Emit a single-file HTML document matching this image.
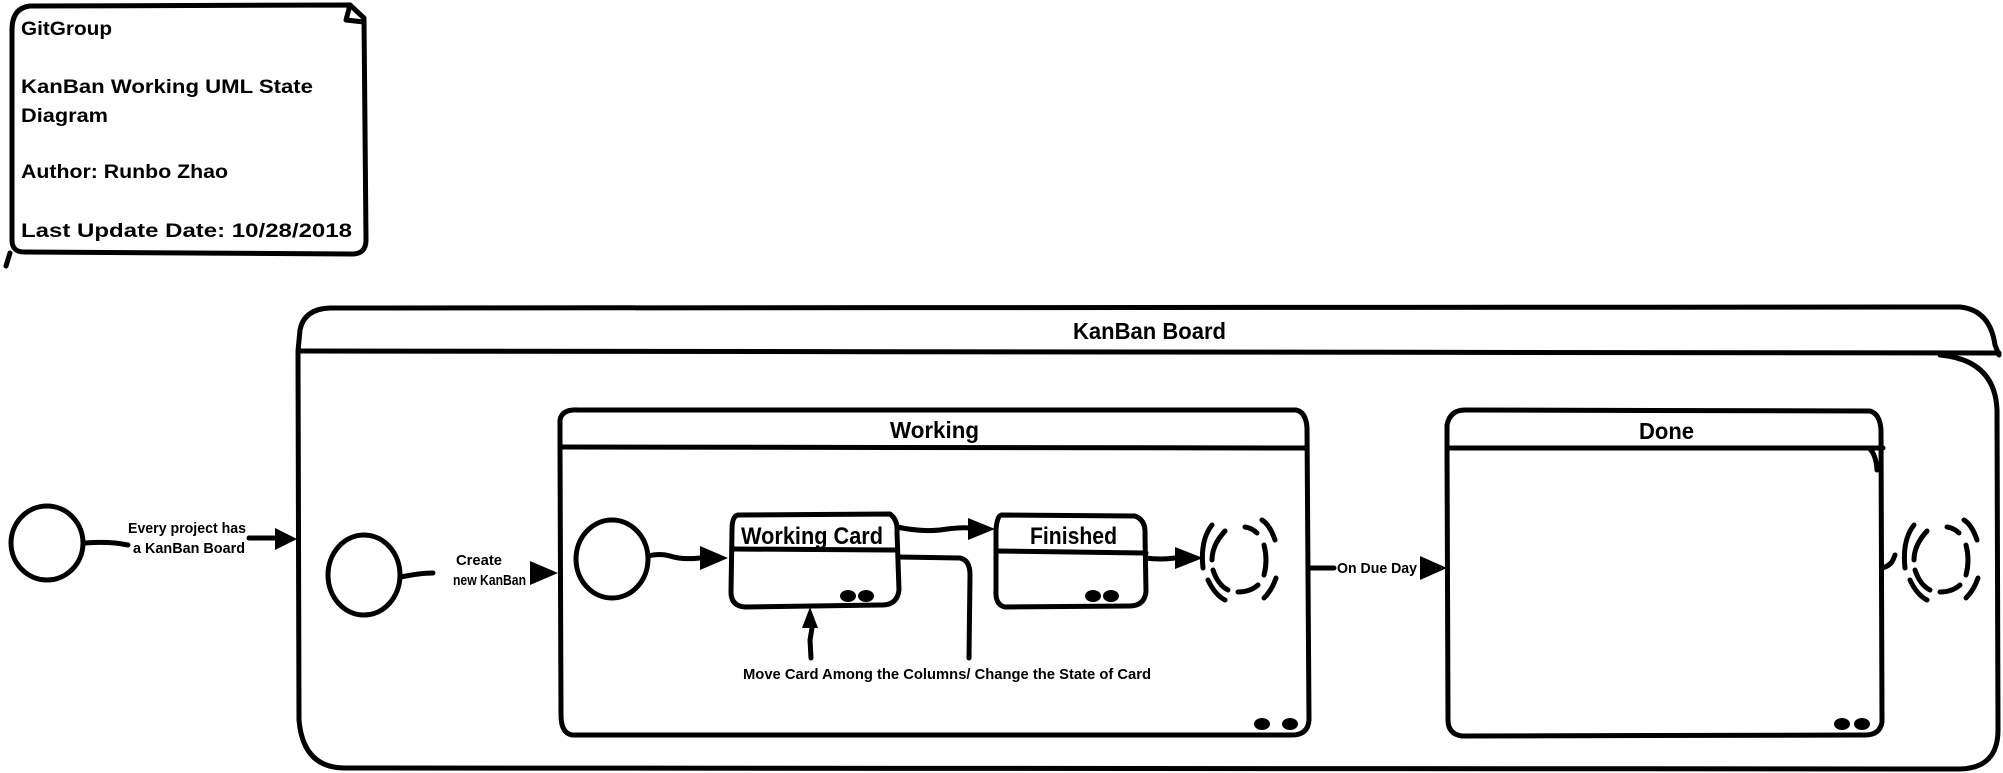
<!DOCTYPE html>
<html><head><meta charset="utf-8"><style>
html,body{margin:0;padding:0;background:#fff;}
svg{display:block;}
text{font-family:"Liberation Sans Narrow","Liberation Sans",sans-serif;font-weight:bold;fill:#000;}
.n{font-family:"Liberation Sans",sans-serif;font-size:19px;}
</style></head><body>
<svg width="2003" height="773" viewBox="0 0 2003 773" xmlns="http://www.w3.org/2000/svg">
<g fill="none" stroke="#000" stroke-width="5" stroke-linecap="round" stroke-linejoin="round">
<!-- note -->
<path d="M30 6 L350 5 L364 18 L366 240 Q366 254 352 254 L24 252 Q12 252 12 240 L12 30 Q12 8 30 6 Z"/>
<path d="M350 5 L346 20 L364 22"/>
<path d="M10 253 L6 266"/>
<!-- board -->
<path d="M298 351 L300 330 Q304 309 330 308 L1960 307 Q1990 310 1995 345 L1999 355"/>
<path d="M298 351 L1999 353"/>
<path d="M298 353 L299 720 Q303 768 345 768 L1960 769 Q1998 768 1998 730 L1997 410 Q1995 360 1940 355"/>
<!-- initial circles -->
<ellipse cx="47" cy="543" rx="36" ry="37"/>
<ellipse cx="364" cy="575" rx="36" ry="40"/>
<ellipse cx="612" cy="559" rx="36" ry="39"/>
<!-- arrows lines -->
<path d="M85 543 Q110 541 128 545"/>
<path d="M249 538 L275 538"/>
<path d="M401 577 Q420 573 433 573"/>
<path d="M648 556 Q660 553 670 556 Q682 560 700 558"/>
<!-- working -->
<path d="M560 447 L560 420 Q562 409 578 410 L1296 410 Q1306 412 1307 428 L1309 720 Q1308 735 1292 735 L572 735 Q561 733 561 715 Z"/>
<path d="M561 447 L1306 448"/>
<!-- working card -->
<path d="M738 515 L890 514 Q898 520 897 532 L899 590 Q897 606 880 605 L745 607 Q731 606 731 592 L732 530 Q732 516 738 515 Z"/>
<path d="M732 549 L897 550"/>
<path d="M897 527 Q920 532 940 530 Q960 527 970 528"/>
<path d="M898 557 L960 558 Q970 560 970 575 L969 658"/>
<path d="M811 658 L810 640 L812 628"/>
<!-- finished -->
<path d="M1002 515 L1135 516 Q1146 520 1145 535 L1146 592 Q1144 606 1130 606 L1005 607 Q995 605 996 590 L996 530 Q997 515 1002 515 Z"/>
<path d="M996 551 L1146 553"/>
<path d="M1146 558 Q1160 560 1175 558"/>
<!-- working final -->
<path d="M1225 531 Q1212 545 1212 560 M1213 570 Q1218 585 1228 590 M1238 592 Q1250 592 1258 585 M1264 575 Q1268 560 1264 545 M1257 533 Q1252 528 1245 527"/>
<path d="M1212 525 Q1200 540 1203 568 M1208 580 Q1215 595 1225 600 M1264 598 Q1272 590 1276 578 M1275 540 Q1270 525 1262 520"/>
<!-- due day line -->
<path d="M1309 568 L1334 568"/>
<!-- done -->
<path d="M1447 448 L1447 425 Q1450 410 1465 410 L1870 411 Q1880 414 1881 430 L1882 722 Q1880 735 1865 735 L1462 736 Q1448 734 1448 720 Z"/>
<path d="M1448 448 L1883 448"/>
<path d="M1870 449 Q1876 455 1877 470"/>
<path d="M1882 568 Q1890 566 1893 560 L1895 555"/>
<!-- done final -->
<path d="M1927 531 Q1914 545 1914 560 M1915 570 Q1920 585 1930 590 M1940 592 Q1952 592 1960 585 M1966 575 Q1970 560 1966 545 M1959 533 Q1954 528 1947 527"/>
<path d="M1914 525 Q1902 540 1905 568 M1910 580 Q1917 595 1927 600 M1966 598 Q1974 590 1978 578 M1977 540 Q1972 525 1964 520"/>
</g>
<g fill="#000">
<polygon points="275,528 297,539 275,550"/>
<polygon points="530,561 558,573 530,585"/>
<polygon points="700,546 728,558 700,570"/>
<polygon points="968,518 995,529 968,540"/>
<polygon points="1175,547 1203,558 1175,569"/>
<polygon points="1420,556 1447,568 1420,580"/>
<polygon points="802,628 810,607 818,628"/>
<ellipse cx="848" cy="596" rx="8" ry="6"/><ellipse cx="866" cy="596" rx="8" ry="6"/>
<ellipse cx="1093" cy="596" rx="8" ry="6"/><ellipse cx="1111" cy="596" rx="8" ry="6"/>
<ellipse cx="1262" cy="724" rx="8" ry="6"/><ellipse cx="1290" cy="724" rx="8" ry="6"/>
<ellipse cx="1842" cy="724" rx="8" ry="6"/><ellipse cx="1862" cy="724" rx="8" ry="6"/>
</g>
<text class="n" x="21" y="35" textLength="91" lengthAdjust="spacingAndGlyphs">GitGroup</text>
<text class="n" x="21" y="93" textLength="292" lengthAdjust="spacingAndGlyphs">KanBan Working UML State</text>
<text class="n" x="21" y="122" textLength="87" lengthAdjust="spacingAndGlyphs">Diagram</text>
<text class="n" x="21" y="178" textLength="207" lengthAdjust="spacingAndGlyphs">Author: Runbo Zhao</text>
<text class="n" x="21" y="237" textLength="331" lengthAdjust="spacingAndGlyphs">Last Update Date: 10/28/2018</text>
<text x="1073" y="339" font-size="23" textLength="153" lengthAdjust="spacingAndGlyphs">KanBan Board</text>
<text x="890" y="438" font-size="23" textLength="89" lengthAdjust="spacingAndGlyphs">Working</text>
<text x="1639" y="439" font-size="23" textLength="55" lengthAdjust="spacingAndGlyphs">Done</text>
<text x="741" y="544" font-size="24" textLength="142" lengthAdjust="spacingAndGlyphs">Working Card</text>
<text x="1030" y="544" font-size="24" textLength="87" lengthAdjust="spacingAndGlyphs">Finished</text>
<text x="128" y="533" font-size="15" textLength="118" lengthAdjust="spacingAndGlyphs">Every project has</text>
<text x="133" y="553" font-size="15" textLength="112" lengthAdjust="spacingAndGlyphs">a KanBan Board</text>
<text x="456" y="565" font-size="15" textLength="46" lengthAdjust="spacingAndGlyphs">Create</text>
<text x="453" y="585" font-size="15" textLength="73" lengthAdjust="spacingAndGlyphs">new KanBan</text>
<text x="1337" y="573" font-size="15" textLength="80" lengthAdjust="spacingAndGlyphs">On Due Day</text>
<text x="743" y="679" font-size="15" textLength="408" lengthAdjust="spacingAndGlyphs">Move Card Among the Columns/ Change the State of Card</text>
</svg>
</body></html>
